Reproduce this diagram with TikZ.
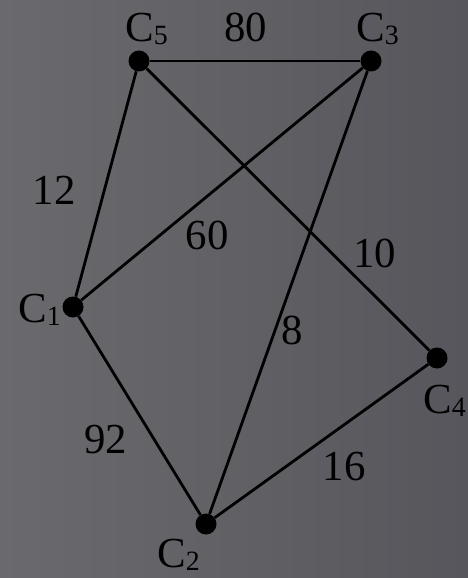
\documentclass[tikz,border=0pt]{standalone}
\usepackage{fontspec}
\setmainfont{Liberation Serif}
\usetikzlibrary{positioning}
\definecolor{bgdark}{RGB}{86,86,92}
\definecolor{bglight}{RGB}{106,106,110}
\newcommand{\vsub}[1]{\raisebox{-3bp}{\fontsize{28}{28}\selectfont #1}}
\tikzset{
  vertex/.style ={circle,fill=black,inner sep=0pt,minimum size=21bp},
  vname/.style  ={inner sep=0pt,anchor=base west,font=\fontsize{43}{46}\selectfont},
  weight/.style ={inner sep=0pt,font=\fontsize{43}{46}\selectfont},
  edge/.style   ={line width=2.8bp,black}
}
\begin{document}
\begin{tikzpicture}[x=1bp,y=-1bp]
  % background
  \fill[left color=bglight,right color=bgdark] (0,0) rectangle (468,578);
  \useasboundingbox (0,0) rectangle (468,578);
  % vertices
  \node[vertex] (c5) at (139,61)  {};
  \node[vertex] (c3) at (371,61)  {};
  \node[vertex] (c1) at (73,307)  {};
  \node[vertex] (c4) at (437,358) {};
  \node[vertex] (c2) at (206,524) {};
  % names
  \node[above right=19bp and -14bp of c5.center,vname] (n5) {C\vsub{5}};
  \node[above right=19bp and -15bp of c3.center,vname] (n3) {C\vsub{3}};
  \node[below left=15bp and 55bp of c1.center,vname]   (n1) {C\vsub{1}};
  \node[below left=55bp and 14bp of c4.center,vname]   (n4) {C\vsub{4}};
  \node[below left=43bp and 49bp of c2.center,vname]   (n2) {C\vsub{2}};
  % edges
  \draw[edge] (c5) -- node[weight,xshift=-9.5bp,yshift=33.5bp] (w80) {80} (c3);
  \draw[edge] (c5) -- node[weight,xshift=-52bp,yshift=-6bp] (w12) {12} (c1);
  \draw[edge] (c1) -- node[weight,xshift=-15bp,yshift=-51bp] (w60) {60} (c3);
  \draw[edge] (c5) -- node[weight,pos=0.8,xshift=2bp,yshift=41bp] (w10) {10} (c4);
  \draw[edge] (c3) -- node[weight,pos=0.6,xshift=19bp,yshift=6bp] (w8) {8} (c2);
  \draw[edge] (c1) -- node[weight,pos=0.6,xshift=-46bp,yshift=-4bp] (w92) {92} (c2);
  \draw[edge] (c2) -- node[weight,pos=0.6,xshift=1.5bp,yshift=-40.5bp] (w16) {16} (c4);
\end{tikzpicture}
\end{document}
